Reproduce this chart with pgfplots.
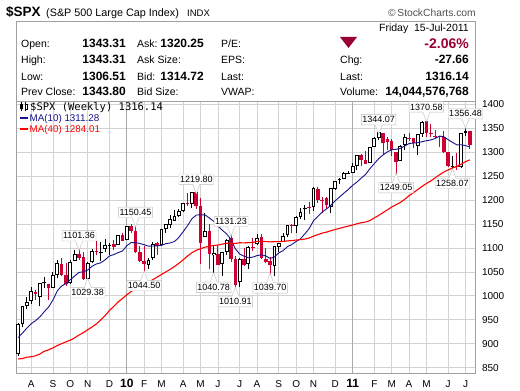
\documentclass[border=0pt]{standalone}
\usepackage{fontspec}
\setmainfont{Liberation Sans}
\newfontfamily\monofont{DejaVu Sans Mono}
\usepackage{pgfplots}
\usepackage{pgfplotstable}
\pgfplotsset{compat=1.18}
\usetikzlibrary{shapes.callouts}
\definecolor{candlered}{RGB}{204,0,51}
\definecolor{manavy}{RGB}{20,20,140}
\definecolor{mared}{RGB}{255,0,0}
\definecolor{maroonc}{RGB}{153,0,51}
\definecolor{gridgray}{RGB}{210,210,210}
\definecolor{yeargray}{RGB}{170,170,170}
\definecolor{framegray}{RGB}{160,160,160}
\definecolor{lblgray}{RGB}{190,190,190}
\definecolor{cpgray}{RGB}{80,80,80}
\newcommand\fsz[1]{\fontsize{#1}{#1}\selectfont}

\pgfplotstableread{
i O H L C
0 879.57 943.96 875.32 940.38
1 940.57 979.79 934.68 979.26
2 979.01 996.68 971.82 987.48
3 990.22 1018.00 983.69 1010.48
5 998.18 1027.59 978.51 1026.13
6 1026.59 1039.47 1016.20 1028.93
8 1016.40 1049.76 1016.40 1042.73
9 1042.68 1074.77 1036.80 1068.30
12 1026.87 1075.30 1025.21 1071.49
13 1072.83 1096.56 1072.82 1087.68
16 1036.18 1071.48 1029.38 1069.30
17 1069.79 1097.30 1069.30 1093.48
19 1091.07 1112.38 1073.14 1091.49
20 1098.89 1119.73 1091.93 1105.98
21 1105.52 1110.72 1085.89 1106.41
23 1105.31 1126.48 1105.31 1126.48
25 1116.56 1145.39 1116.56 1144.98
30 1065.51 1080.04 1056.51 1075.51
31 1079.13 1112.42 1075.51 1109.17
33 1105.36 1139.38 1105.36 1138.70
34 1138.70 1150.24 1131.38 1149.99
35 1148.53 1169.20 1141.11 1159.90
36 1157.25 1180.16 1156.20 1166.59
37 1167.71 1181.43 1165.77 1178.10
38 1178.25 1194.66 1175.65 1194.37
40 1192.06 1217.28 1183.68 1217.28
43 1122.27 1173.57 1122.27 1135.68
45 1084.78 1104.25 1040.78 1089.41
47 1065.84 1092.25 1042.17 1091.60
48 1091.21 1119.13 1085.63 1117.51
51 1028.09 1078.16 1018.35 1077.96
53 1066.85 1103.73 1056.88 1102.66
55 1107.53 1128.75 1107.17 1121.64
59 1062.90 1105.10 1040.88 1104.51
60 1102.63 1110.88 1091.15 1109.55
61 1113.38 1131.47 1113.38 1125.59
62 1126.57 1148.90 1122.25 1148.67
64 1144.96 1167.73 1131.58 1165.15
65 1165.32 1184.38 1159.71 1176.19
66 1180.52 1189.43 1159.09 1183.08
68 1185.71 1227.08 1177.65 1225.85
72 1186.60 1225.57 1173.64 1224.71
73 1223.87 1240.97 1222.00 1240.40
74 1242.52 1246.73 1232.85 1243.91
75 1243.63 1259.33 1243.63 1256.77
76 1254.66 1260.12 1254.21 1257.64
77 1257.62 1278.17 1257.62 1271.50
78 1270.84 1293.24 1262.66 1293.24
81 1276.69 1311.00 1276.69 1310.87
82 1311.19 1330.79 1311.19 1329.15
83 1328.73 1344.07 1324.61 1343.01
88 1281.65 1315.99 1281.65 1313.80
89 1315.45 1337.85 1305.26 1332.41
92 1313.35 1337.49 1294.70 1337.38
93 1337.14 1364.56 1331.63 1363.61
100 1271.31 1292.50 1258.07 1271.50
102 1268.44 1341.01 1267.53 1339.67
103 1339.64 1356.48 1333.17 1343.80
}\upcandles

\pgfplotstableread{
i O H L C
4 1008.89 1012.24 990.87 1004.09
7 1025.21 1025.21 991.97 1016.40
10 1067.28 1080.15 1041.17 1044.38
11 1043.64 1069.62 1019.95 1025.21
14 1088.22 1101.36 1075.40 1079.60
15 1080.38 1091.30 1033.38 1036.19
18 1094.13 1113.69 1085.88 1091.38
22 1107.84 1117.68 1095.41 1102.47
24 1127.30 1130.38 1114.81 1115.10
26 1145.96 1150.41 1131.39 1136.03
27 1136.03 1150.45 1090.18 1091.76
28 1092.40 1103.69 1071.59 1073.87
29 1073.89 1104.73 1044.50 1066.19
32 1110.00 1112.29 1086.02 1104.49
39 1193.27 1213.92 1186.77 1192.13
41 1217.07 1219.80 1181.62 1186.69
42 1188.58 1205.13 1065.79 1110.88
44 1136.52 1150.38 1055.90 1087.69
46 1087.30 1105.67 1064.66 1064.88
49 1121.47 1131.23 1071.06 1076.76
50 1077.50 1082.60 1010.91 1022.58
52 1077.23 1099.08 1063.32 1064.88
54 1102.89 1120.95 1094.46 1101.60
56 1122.80 1129.24 1076.61 1079.25
57 1077.56 1100.14 1069.62 1071.69
58 1073.36 1081.58 1039.70 1064.59
63 1148.64 1149.92 1131.87 1146.24
67 1184.74 1196.14 1171.70 1183.26
69 1223.24 1226.84 1194.08 1199.21
70 1200.44 1207.43 1173.00 1199.73
71 1203.60 1205.89 1181.07 1189.40
79 1293.22 1296.06 1271.26 1283.35
80 1283.29 1302.67 1275.10 1276.34
84 1340.38 1340.38 1294.26 1319.88
85 1328.64 1332.28 1304.19 1321.15
86 1322.72 1327.68 1291.99 1304.28
87 1301.19 1301.19 1249.05 1279.21
90 1329.48 1339.46 1322.94 1328.17
91 1329.01 1329.01 1309.66 1319.68
94 1365.21 1370.58 1332.20 1340.20
95 1340.20 1359.44 1332.03 1337.77
96 1334.77 1346.82 1329.25 1333.27
97 1333.07 1334.62 1311.80 1331.10
98 1331.10 1345.20 1297.90 1300.16
99 1300.26 1300.26 1268.19 1270.98
101 1272.16 1298.61 1262.87 1268.45
104 1343.31 1343.31 1306.51 1316.14
}\downcandles

\pgfplotstableread{
i m10 m40
0 913.14 868.28
1 922.78 869.25
2 932.82 872.02
3 941.96 873.06
4 948.36 874.89
5 956.35 878.71
6 967.12 884.43
7 976.87 887.43
8 991.50 891.60
9 1010.42 896.31
10 1020.82 900.23
11 1025.41 904.04
12 1033.81 907.53
13 1041.53 912.46
14 1049.09 918.20
15 1050.09 923.31
16 1054.13 929.39
17 1061.84 935.01
18 1066.70 941.63
19 1069.02 949.66
20 1075.18 958.94
21 1083.30 969.51
22 1086.40 978.16
23 1090.28 987.11
24 1093.83 994.59
25 1104.71 1002.15
26 1111.38 1009.14
27 1111.21 1014.69
28 1109.46 1019.88
29 1106.93 1024.60
30 1103.88 1028.25
31 1104.16 1033.91
32 1104.36 1039.35
33 1105.58 1044.84
34 1109.07 1050.09
35 1110.56 1055.43
36 1113.62 1061.56
37 1122.25 1068.04
38 1134.30 1075.49
39 1146.90 1083.32
40 1161.07 1090.24
41 1168.82 1095.42
42 1169.46 1098.51
43 1169.16 1101.64
44 1162.93 1103.73
45 1155.88 1105.31
46 1145.71 1106.21
47 1137.06 1108.09
48 1129.38 1109.96
49 1117.84 1110.17
50 1098.37 1109.63
51 1087.50 1110.94
52 1082.90 1110.78
53 1079.59 1111.15
54 1080.98 1111.70
55 1084.21 1113.84
56 1085.64 1114.09
57 1083.65 1113.54
58 1078.36 1112.87
59 1081.14 1113.20
60 1089.83 1113.29
61 1094.60 1113.77
62 1102.98 1114.92
63 1107.33 1115.42
64 1113.69 1116.67
65 1119.14 1117.45
66 1129.53 1118.62
67 1140.68 1120.91
68 1156.81 1124.71
69 1166.28 1128.04
70 1175.30 1131.14
71 1181.68 1133.15
72 1189.28 1136.15
73 1198.70 1138.70
74 1206.57 1141.04
75 1214.63 1143.47
76 1222.09 1145.74
77 1230.91 1148.08
78 1237.65 1150.55
79 1246.07 1152.83
80 1253.73 1154.31
81 1265.87 1157.41
82 1276.32 1162.87
83 1286.58 1168.05
84 1294.18 1173.86
85 1300.61 1179.65
86 1305.28 1185.63
87 1306.05 1190.32
88 1308.10 1195.23
89 1313.01 1201.62
90 1318.19 1209.26
91 1319.07 1215.31
92 1319.90 1222.12
93 1321.96 1228.64
94 1323.99 1234.61
95 1325.65 1240.01
96 1328.55 1246.36
97 1333.74 1252.85
98 1332.38 1258.73
99 1326.23 1262.90
100 1320.57 1266.95
101 1315.44 1270.52
102 1315.67 1275.29
103 1313.69 1280.23
104 1311.28 1284.01
}\mavg

\begin{document}
\begin{tikzpicture}[
  lbltop/.style={rectangle callout, draw=lblgray, fill=white, font=\fsz{9}, inner xsep=1pt, inner ysep=2pt,
    yshift=11.5pt, callout relative pointer={(0pt,-9.5pt)}, callout pointer width=7pt},
  lblbot/.style={rectangle callout, draw=lblgray, fill=white, font=\fsz{9}, inner xsep=1pt, inner ysep=2pt,
    yshift=-11pt, callout relative pointer={(0pt,9.5pt)}, callout pointer width=7pt}]
\useasboundingbox (0pt,0pt) rectangle (520pt,391pt);
\fill[white] (0pt,0pt) rectangle (520pt,391pt);
\begin{scope}[x=1pt,y=1pt]
% title line
\node[anchor=base west,inner sep=0,font=\fsz{13.5}\bfseries] at (6,374) {\$SPX};
\node[anchor=base west,inner sep=0,font=\fsz{10.8}] at (46,374) {(S\&P 500 Large Cap Index)};
\node[anchor=base west,inner sep=0,font=\fsz{9.5}] at (187,374) {INDX};
\node[anchor=base east,inner sep=0,font=\fsz{10.3},text=cpgray] at (476,374) {©\,StockCharts.com};
% header box
\draw[framegray] (16.5,290) rectangle (475.5,370);
\node[anchor=base east,inner sep=0,font=\fsz{10.5}] at (469,359.25) {Friday\ \ 15-Jul-2011};
\end{scope}
\begin{scope}[x=1pt,y=1pt,every node/.style={inner sep=0,font=\fsz{10.5}}]
\node[anchor=base west] at (21,343.75) {Open:};
\node[anchor=base west] at (21,327.25) {High:};
\node[anchor=base west] at (21,310.75) {Low:};
\node[anchor=base west] at (21,295.25) {Prev Close:};
\node[anchor=base east,font=\fsz{12}\bfseries] at (126,343.75) {1343.31};
\node[anchor=base east,font=\fsz{12}\bfseries] at (126,327.25) {1343.31};
\node[anchor=base east,font=\fsz{12}\bfseries] at (126,310.75) {1306.51};
\node[anchor=base east,font=\fsz{12}\bfseries] at (126,295.25) {1343.80};
\node[anchor=base west] at (137,343.75) {Ask:};
\node[anchor=base west] at (137,327.25) {Ask Size:};
\node[anchor=base west] at (137,310.75) {Bid:};
\node[anchor=base west] at (137,295.25) {Bid Size:};
\node[anchor=base east,font=\fsz{12}\bfseries] at (204,343.75) {1320.25};
\node[anchor=base east,font=\fsz{12}\bfseries] at (204,310.75) {1314.72};
\node[anchor=base west] at (221,343.75) {P/E:};
\node[anchor=base west] at (221,327.25) {EPS:};
\node[anchor=base west] at (221,310.75) {Last:};
\node[anchor=base west] at (221,295.25) {VWAP:};
\node[anchor=base west] at (340,327.25) {Chg:};
\node[anchor=base west] at (340,310.75) {Last:};
\node[anchor=base west] at (340,295.25) {Volume:};
\node[anchor=base east,font=\fsz{14}\bfseries,text=maroonc] at (469,342.5) {-2.06\%};
\node[anchor=base east,font=\fsz{12}\bfseries] at (469,327.25) {-27.66};
\node[anchor=base east,font=\fsz{12}\bfseries] at (469,310.75) {1316.14};
\node[anchor=base east,font=\fsz{12}\bfseries] at (469,295.25) {14,044,576,768};
\fill[maroonc] (340,354) -- (357,354) -- (348.5,343) -- cycle;
\end{scope}

\begin{axis}[
  at={(16.5pt,18pt)}, anchor=south west,
  scale only axis, width=459pt, height=272pt,
  xmin=-0.4, xmax=105.3, ymin=839, ymax=1407,
  clip=false,
  axis line style={draw=framegray},
  major tick length=0pt, minor tick length=0pt,
  xtick={3,8,12,16,21,25,29,33,38,42,46,51,55,60,64,68,73,77,82,86,90,94,99,103},
  xticklabels={A,S,O,N,D,{\fsz{12}\bfseries 10},F,M,A,M,J,J,A,S,O,N,D,{\fsz{12}\bfseries 11},F,M,A,M,J,J},
  xticklabel style={font=\fsz{10}, text height=7.5pt, text depth=0pt, yshift=-3pt},
  ytick={850,900,...,1400},
  yticklabel pos=right,
  yticklabel style={font=\fsz{10}, anchor=west, xshift=3pt},
  /pgf/number format/assume math mode=true,
  /pgf/number format/1000 sep={},
  grid=major,
  major grid style={draw=gridgray, line width=0.8pt},
  extra x ticks={25,77}, extra x tick labels={},
  extra x tick style={major grid style={draw=yeargray, line width=0.8pt}},
]
% wicks
\addplot[draw=none, mark=none, forget plot, error bars/.cd, y dir=plus, y explicit, error mark=none,
  error bar style={draw=black, line width=1pt, solid}]
  table[x=i, y=L, y error plus expr={\thisrow{H}-\thisrow{L}}] {\upcandles};
\addplot[draw=none, mark=none, forget plot, error bars/.cd, y dir=plus, y explicit, error mark=none,
  error bar style={draw=candlered, line width=1pt, solid}]
  table[x=i, y=L, y error plus expr={\thisrow{H}-\thisrow{L}}] {\downcandles};
% bodies
\addplot[draw=none, mark=none, forget plot, error bars/.cd, y dir=plus, y explicit, error mark=none,
  error bar style={draw=candlered, line width=3.6pt, solid}]
  table[x=i, y=C, y error plus expr={\thisrow{O}-\thisrow{C}}] {\downcandles};
\addplot[draw=none, mark=none, forget plot, error bars/.cd, y dir=plus, y explicit, error mark=none,
  error bar style={draw=black, line width=3.8pt, solid}]
  table[x=i, y=O, y error plus expr={\thisrow{C}-\thisrow{O}}] {\upcandles};
\addplot[draw=none, mark=none, forget plot, error bars/.cd, y dir=plus, y explicit, error mark=none,
  error bar style={draw=white, line width=1.8pt, solid}]
  table[x=i, y expr={\thisrow{O}+2.09}, y error plus expr={max(\thisrow{C}-\thisrow{O}-4.18,0)}] {\upcandles};
% moving averages
\addplot[manavy, line width=0.9pt, mark=none] table[x=i, y=m10] {\mavg};
\addplot[mared, line width=1.1pt, mark=none] table[x=i, y=m40] {\mavg};
% annotations
\node[lbltop] at (axis cs:14,1101.36) {1101.36};
\node[lbltop] at (axis cs:27,1150.45) {1150.45};
\node[lbltop] at (axis cs:41,1219.80) {1219.80};
\node[lbltop] at (axis cs:49,1131.23) {1131.23};
\node[lbltop] at (axis cs:83,1344.07) {1344.07};
\node[lbltop] at (axis cs:94,1370.58) {1370.58};
\node[lbltop] at (axis cs:103,1356.48) {1356.48};
\node[lblbot] at (axis cs:16,1029.38) {1029.38};
\node[lblbot] at (axis cs:29,1044.50) {1044.50};
\node[lblbot] at (axis cs:45,1040.78) {1040.78};
\node[lblbot] at (axis cs:50,1010.91) {1010.91};
\node[lblbot] at (axis cs:58,1039.70) {1039.70};
\node[lblbot] at (axis cs:87,1249.05) {1249.05};
\node[lblbot] at (axis cs:100,1258.07) {1258.07};
\end{axis}
\begin{scope}[x=1pt,y=1pt]
% legend
\draw[black, line width=0.8pt] (21.5,279.5) -- (21.5,289);
\fill[black] (20.4,281.5) rectangle (22.6,287);
\draw[black, line width=0.8pt] (25.8,280) -- (25.8,288.5);
\draw[black, fill=white, line width=0.6pt] (24.8,282) rectangle (26.8,286.5);
\node[anchor=base west,inner sep=0,font={\monofont\fsz{10.5}}] at (30,280.2) {\$SPX (Weekly) 1316.14};
\draw[manavy, line width=2pt] (20,273) -- (28,273);
\node[anchor=base west,inner sep=0,font=\fsz{9.8},text=manavy] at (29.5,269.4) {MA(10) 1311.28};
\draw[mared, line width=2pt] (20,262) -- (28,262);
\node[anchor=base west,inner sep=0,font=\fsz{9.8},text=mared] at (29.5,258.4) {MA(40) 1284.01};
\end{scope}
\end{tikzpicture}
\end{document}
